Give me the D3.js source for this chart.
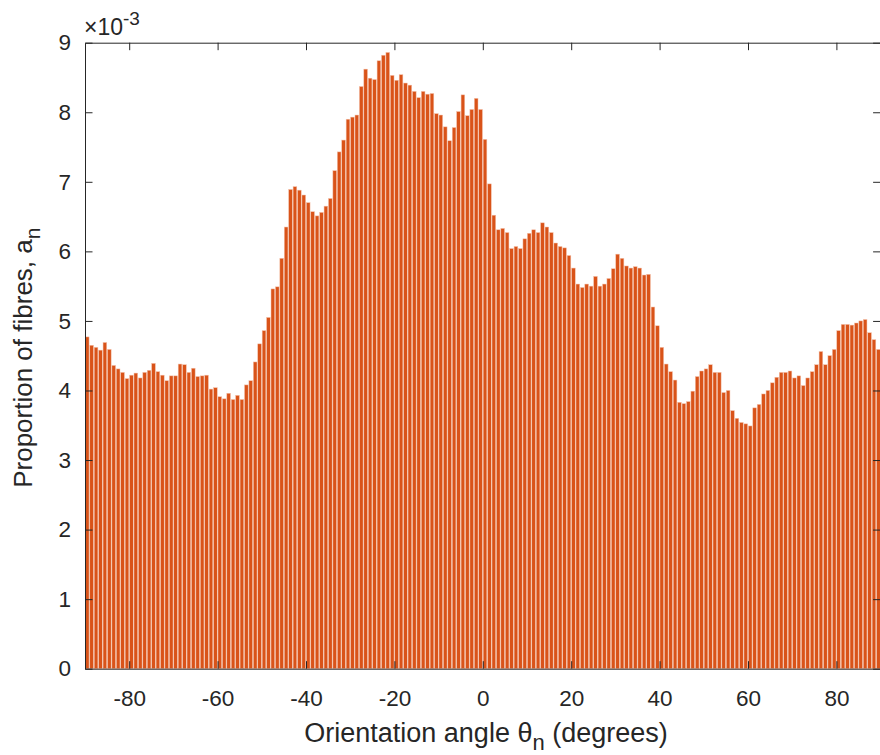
<!DOCTYPE html>
<html>
<head>
<meta charset="utf-8">
<script src="https://cdn.jsdelivr.net/npm/d3@7/dist/d3.min.js"></script>
<style>
  html, body { margin: 0; padding: 0; background: #ffffff; }
  svg { display: block; }
  text { font-family: "Liberation Sans", Arial, Helvetica, sans-serif; fill: #262626; }
</style>
</head>
<body>
<svg id="chart" width="880" height="755"></svg>
<script>
// Bin centres of the 1-degree orientation histogram, -89.5 ... 89.5
const binCentres = d3.range(-89.5, 90, 1);

// Proportion of fibres per bin (units of 1e-3)
const proportions = [
  4.77, 4.65, 4.62, 4.58, 4.69, 4.59, 4.36, 4.31, 4.26, 4.17,
  4.22, 4.25, 4.18, 4.26, 4.29, 4.39, 4.27, 4.22, 4.14, 4.21,
  4.21, 4.38, 4.37, 4.26, 4.32, 4.20, 4.21, 4.22, 4.02, 4.04,
  3.91, 3.88, 3.96, 3.87, 3.93, 3.87, 4.08, 4.14, 4.41, 4.67,
  4.86, 5.05, 5.46, 5.49, 5.90, 6.35, 6.89, 6.93, 6.88, 6.81,
  6.70, 6.57, 6.51, 6.56, 6.65, 6.76, 7.16, 7.43, 7.60, 7.90,
  7.93, 7.96, 8.37, 8.62, 8.49, 8.47, 8.74, 8.82, 8.86, 8.53,
  8.46, 8.54, 8.42, 8.39, 8.30, 8.21, 8.30, 8.26, 8.27, 7.98,
  7.96, 7.79, 7.59, 7.78, 8.01, 8.25, 7.95, 8.04, 8.20, 8.04,
  7.61, 6.97, 6.52, 6.31, 6.33, 6.27, 6.04, 6.07, 6.04, 6.18,
  6.26, 6.31, 6.27, 6.41, 6.35, 6.27, 6.12, 6.07, 6.05, 5.94,
  5.76, 5.53, 5.48, 5.53, 5.50, 5.64, 5.50, 5.53, 5.61, 5.75,
  5.96, 5.90, 5.79, 5.76, 5.78, 5.76, 5.66, 5.67, 5.20, 4.93,
  4.62, 4.38, 4.27, 4.15, 3.83, 3.81, 3.84, 3.99, 4.20, 4.28,
  4.31, 4.37, 4.26, 4.26, 3.97, 4.00, 3.71, 3.60, 3.54, 3.52,
  3.49, 3.75, 3.80, 3.95, 4.00, 4.11, 4.19, 4.26, 4.26, 4.28,
  4.18, 4.21, 4.07, 4.18, 4.27, 4.37, 4.56, 4.37, 4.50, 4.59,
  4.86, 4.95, 4.95, 4.94, 4.97, 5.00, 5.02, 4.83, 4.73, 4.59
];

const xTicks = [-80, -60, -40, -20, 0, 20, 40, 60, 80];
const yTicks = [0, 1, 2, 3, 4, 5, 6, 7, 8, 9];

const data = binCentres.map((c, i) => ({ centre: c, value: proportions[i] }));

const svg = d3.select("#chart");
const plot = { left: 85, right: 880.6, top: 42.7, bottom: 668.7 };

const x = d3.scaleLinear().domain([-90, 90]).range([plot.left, plot.right]);
const y = d3.scaleLinear().domain([0, 9]).range([plot.bottom, plot.top]);

const barColour = "#d95319";
const axisColour = "#262626";

// Bars
const binW = x(1) - x(0);
const gap = 0.75;
svg.append("g")
  .selectAll("rect")
  .data(data)
  .join("rect")
  .attr("x", d => x(d.centre - 0.5) + gap / 2)
  .attr("width", binW - gap)
  .attr("y", d => y(d.value))
  .attr("height", d => y(0) - y(d.value))
  .attr("fill", barColour)
  .attr("stroke", "#f4c2ab")
  .attr("stroke-width", 0.5);

const tickLen = 7.5;
const tickSize = "22.5px";
const plainNumber = d => String(d);   // hyphen-minus, as in the axis labels

// Bottom axis (ticks point inward)
const xAxis = svg.append("g")
  .attr("transform", `translate(0,${plot.bottom})`)
  .call(d3.axisBottom(x).tickValues(xTicks).tickFormat(plainNumber)
    .tickSizeInner(-tickLen).tickSizeOuter(0).tickPadding(21));
// Top axis: ticks only
const xAxisTop = svg.append("g")
  .attr("transform", `translate(0,${plot.top})`)
  .call(d3.axisTop(x).tickValues(xTicks).tickSizeInner(-tickLen).tickSizeOuter(0).tickFormat(""));
// Left axis
const yAxis = svg.append("g")
  .attr("transform", `translate(${plot.left},0)`)
  .call(d3.axisLeft(y).tickValues(yTicks).tickFormat(plainNumber)
    .tickSizeInner(-tickLen).tickSizeOuter(0).tickPadding(14));
// Right axis: ticks only
const yAxisRight = svg.append("g")
  .attr("transform", `translate(${plot.right},0)`)
  .call(d3.axisRight(y).tickValues(yTicks).tickSizeInner(-tickLen).tickSizeOuter(0).tickFormat(""));

[xAxis, xAxisTop, yAxis, yAxisRight].forEach(g => {
  g.select(".domain").attr("stroke", axisColour).attr("stroke-width", 1);
  g.selectAll(".tick line").attr("stroke", axisColour).attr("stroke-width", 1);
  g.selectAll(".tick text")
    .attr("fill", axisColour)
    .style("font-family", '"Liberation Sans", Arial, sans-serif')
    .style("font-size", tickSize);
});
xAxis.selectAll(".tick text").attr("dy", "0.71em");

// Exponent label above the y axis
const expo = svg.append("text")
  .attr("x", plot.left - 1)
  .attr("y", 35)
  .style("font-size", "23px");
expo.append("tspan").text("\u00d710");
expo.append("tspan").attr("dy", -10).style("font-size", "19px").text("-3");

// Axis titles
const xTitle = svg.append("text")
  .attr("x", 486)
  .attr("y", 742)
  .attr("text-anchor", "middle")
  .style("font-size", "27px");
xTitle.append("tspan").text("Orientation angle \u03b8");
xTitle.append("tspan").attr("dy", 8).style("font-size", "22px").text("n");
xTitle.append("tspan").attr("dy", -8).text(" (degrees)");

const yTitle = svg.append("text")
  .attr("transform", `translate(32,${(plot.top + plot.bottom) / 2 + 2}) rotate(-90)`)
  .attr("text-anchor", "middle")
  .style("font-size", "26px");
yTitle.append("tspan").text("Proportion of fibres, a");
yTitle.append("tspan").attr("dy", 8).style("font-size", "21px").text("n");
</script>
</body>
</html>
